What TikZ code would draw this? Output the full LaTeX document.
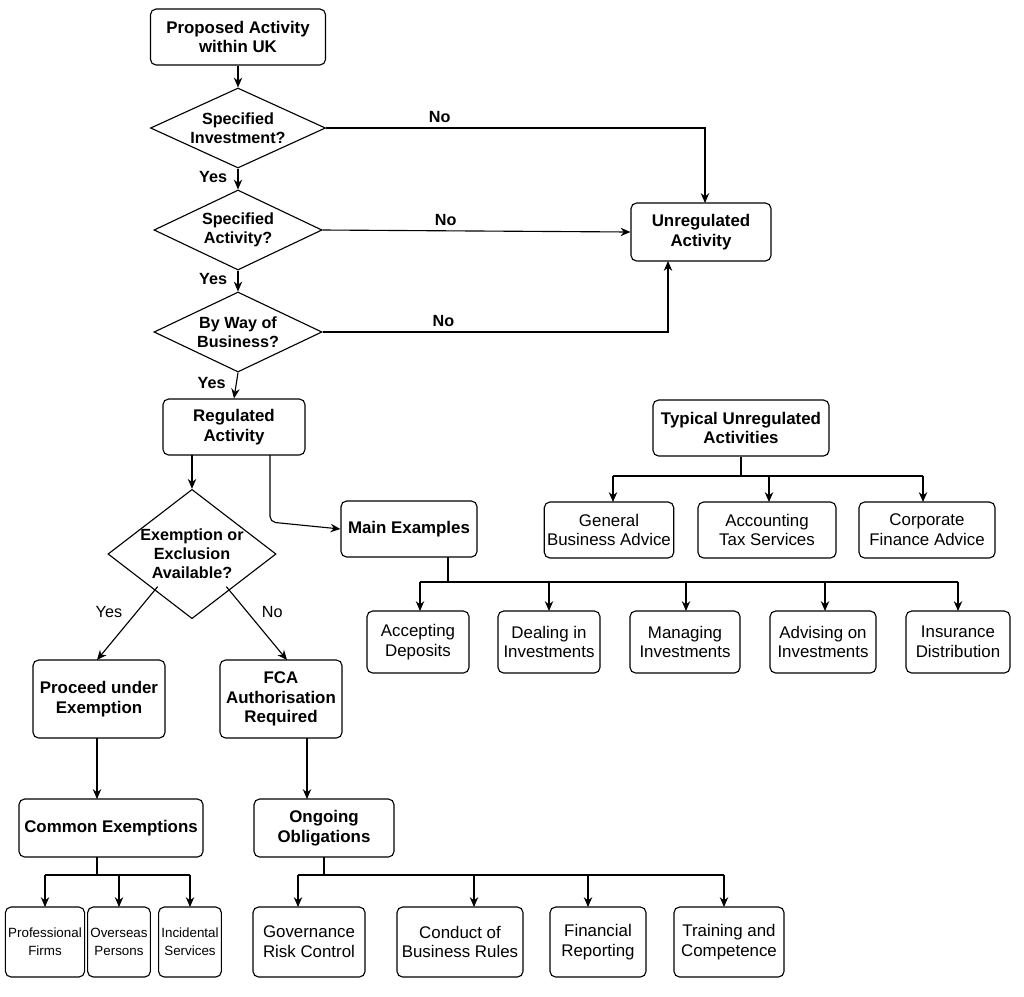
\documentclass[tikz,border=0pt]{standalone}
\usepackage{fontspec}
\setmainfont{Liberation Sans}
\usetikzlibrary{shapes.geometric,positioning,arrows.meta}

\tikzset{
  box/.style={draw, rounded corners=4pt, thick, align=center, font=\fontsize{12}{14}\selectfont\bfseries, inner sep=2pt},
  leaf/.style={draw, rounded corners=4pt, thick, align=center, font=\fontsize{12}{14}\selectfont, inner sep=2pt},
  small/.style={leaf, font=\fontsize{9.5}{13}\selectfont},
  decision/.style={draw, diamond, thick, align=center, font=\fontsize{11.5}{13.5}\selectfont\bfseries, inner sep=0pt, aspect=2.2},
  lbl/.style={font=\fontsize{11.5}{13}\selectfont\bfseries},
  arr/.style={-{Stealth[length=7pt,width=6pt]}, thick}
}

\begin{document}
\begin{tikzpicture}[x=0.025cm,y=-0.025cm]
\useasboundingbox (0,0) rectangle (1024,996);

	\node[box, minimum width=4.375cm, minimum height=1.4cm] (start) at (238,37) {Proposed Activity\\within UK};
	\node[decision, minimum width=4.375cm, minimum height=2cm] (inv) at (238,128) {Specified\\Investment?};
	\node[decision, minimum width=4.2cm, minimum height=2cm] (act) at (238,230) {Specified\\Activity?};
	\node[decision, minimum width=4.2cm, minimum height=2cm] (bus) at (238,332) {By Way of\\Business?};
	\node[box, minimum width=3.5cm, minimum height=1.45cm] (unreg) at (701,232) {Unregulated\\Activity};
	\node[box, minimum width=3.55cm, minimum height=1.4cm] (reg) at (234,427) {Regulated\\Activity};
	\node[decision, aspect=1.3, minimum width=4.1cm, minimum height=3.1cm] (exc) at (192,554) {Exemption or\\Exclusion\\Available?};
	\node[box, minimum width=3.4cm, minimum height=1.4cm] (main) at (409,529) {Main Examples};
	\node[box, minimum width=4.4cm, minimum height=1.4cm] (typ) at (741,428) {Typical Unregulated\\Activities};

	% unregulated examples
	\node[leaf, minimum width=3.2cm, minimum height=1.4cm] (gen) at (609,530) {General\\Business Advice};
	\node[leaf, minimum width=3.45cm, minimum height=1.4cm] (acc) at (767,530) {Accounting\\Tax Services};
	\node[leaf, minimum width=3.4cm, minimum height=1.4cm] (corp) at (927,530) {Corporate\\Finance Advice};

	% regulated examples
	\node[leaf, minimum width=2.55cm, minimum height=1.55cm] (dep) at (418,642) {Accepting\\Deposits};
	\node[leaf, minimum width=2.55cm, minimum height=1.55cm] (deal) at (549,642) {Dealing in\\Investments};
	\node[leaf, minimum width=2.75cm, minimum height=1.55cm] (man) at (685,642) {Managing\\Investments};
	\node[leaf, minimum width=2.65cm, minimum height=1.55cm] (adv) at (823,642) {Advising on\\Investments};
	\node[leaf, minimum width=2.6cm, minimum height=1.55cm] (ins) at (958,642) {Insurance\\Distribution};

	\node[box, minimum width=3.3cm, minimum height=1.95cm] (proc) at (99,699) {Proceed under\\Exemption};
	\node[box, minimum width=3.05cm, minimum height=1.95cm] (fca) at (281,699) {FCA\\Authorisation\\Required};
	\node[box, minimum width=4.6cm, minimum height=1.45cm] (com) at (111,828) {Common Exemptions};
	\node[box, minimum width=3.5cm, minimum height=1.45cm] (ong) at (324,828) {Ongoing\\Obligations};

	\node[small, minimum width=1.75cm, minimum height=1.75cm] (prof) at (45,942) {Professional\\Firms};
	\node[small, minimum width=1.55cm, minimum height=1.75cm] (over) at (119,942) {Overseas\\Persons};
	\node[small, minimum width=1.55cm, minimum height=1.75cm] (inc) at (190,942) {Incidental\\Services};

	\node[leaf, minimum width=2.8cm, minimum height=1.75cm] (gov) at (309,942) {Governance\\Risk Control};
	\node[leaf, minimum width=3.15cm, minimum height=1.75cm] (cond) at (460,942) {Conduct of\\Business Rules};
	\node[leaf, minimum width=2.4cm, minimum height=1.75cm] (fin) at (598,942) {Financial\\Reporting};
	\node[leaf, minimum width=2.75cm, minimum height=1.75cm] (train) at (729,942) {Training and\\Competence};

	% main flow
	\draw[arr] (start.south) -- (inv.north);
	\draw[arr] (inv.south) -- node[lbl, left=4pt, pos=0.4] {Yes} (act.north);
	\draw[arr] (act.south) -- node[lbl, left=4pt, pos=0.4] {Yes} (bus.north);
	\draw[arr] (bus.south) -- node[lbl, left=4pt, pos=0.4] {Yes} (reg.north);
	\draw[arr] (inv.east) -- node[lbl, above, pos=0.3] {No} (705,128) -- (705,203);
	\draw[arr] (act.east) -- node[lbl, above, pos=0.4] {No} (unreg.west);
	\draw[arr] (bus.east) -- node[lbl, above, pos=0.35] {No} (668,332) -- (668,261);

	\draw[arr] (192,455) -- (exc.north);
	\draw[arr, rounded corners=4pt] (270,455) -- (270,522) -- (main.west);
	\draw[arr] (exc.south west) ++(8,0) -- node[lbl, font=\fontsize{11.5}{13}\selectfont, above left] {Yes} (97,660);
	\draw[arr] (exc.south east) ++(-8,0) -- node[lbl, font=\fontsize{11.5}{13}\selectfont, above right] {No} (287,660);
	\draw[arr] (97,738) -- (97,799);
	\draw[arr] (307,738) -- (307,799);

	% trees
	\draw[thick] (typ.south) -- (741,476);
	\draw[thick] (613,476) -- (923,476);
	\foreach \x in {613,769,923} \draw[arr] (\x,476) -- (\x,502);

	\draw[thick] (448,557) -- (448,582);
	\draw[thick] (420,582) -- (958,582);
	\foreach \x in {420,549,686,825,958} \draw[arr] (\x,582) -- (\x,611);

	\draw[thick] (97,857) -- (97,875);
	\draw[thick] (45,875) -- (190,875);
	\foreach \x in {45,119,190} \draw[arr] (\x,875) -- (\x,907);

	\draw[thick] (324,857) -- (324,875);
	\draw[thick] (298,875) -- (724,875);
	\foreach \x in {298,474,588,724} \draw[arr] (\x,875) -- (\x,907);
\end{tikzpicture}
\end{document}
